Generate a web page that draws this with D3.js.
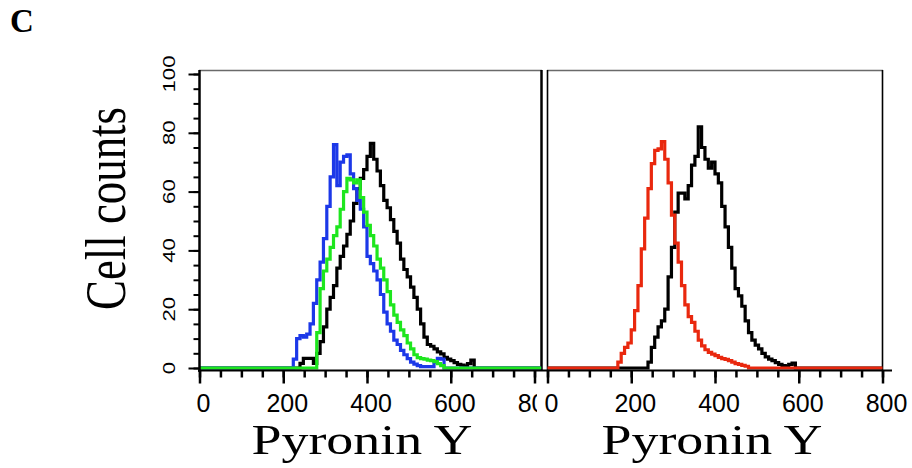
<!DOCTYPE html>
<html>
<head>
<meta charset="utf-8">
<script src="https://cdn.jsdelivr.net/npm/d3@7/dist/d3.min.js"></script>
<style>
  html, body { margin: 0; padding: 0; background: #fff; }
  svg { display: block; }
</style>
</head>
<body>
<svg id="chart" width="912" height="468"></svg>
<script>
// ---------------- DATA ----------------
const binWidth = 8;            // histogram bin width (Pyronin Y units)
const xTickMajor = [0, 200, 400, 600, 800];
const xTickMinor = d3.range(0, 801, 50);
const yTickMajor = [0, 20, 40, 60, 80, 100];
const yTickMinor = d3.range(0, 101, 5);
const xLabel = "Pyronin Y";
const yLabel = "Cell counts";
const panelLetter = "C";

// left panel: black (control), blue, green
const leftBlackStart = 240;
const leftBlack = [1.6,3.3,3.3,3.3,1.6,5,9,14,20,24,28,34,38,41.5,45.5,50,56,61,64.5,67.5,72,76.4,71,67,62,57,54.5,50.5,46.5,42.5,37,33.5,31,27.5,24,20,15,10.5,8,7.4,6.5,5.5,4.8,3.6,3,2.5,1.8,1.2,1,0.5,1.5,2.7];
const leftBlueStart = 224;
const leftBlue = [3,10,11,10.5,11.5,15,22,30,36,44,55,65,76,62,70,72,72.5,66,61,57,54,48,38,35.5,33,30,25,19,15,12.5,9.5,8,6,4.5,3.2,2,1.3,0.8,0.5,0.5,0.5,0.5,2,3.3,3];
const leftGreenStart = 280;
const leftGreen = [12,27,33,37,41,45,48,54,60,64.5,64,63,64,58,53,48.5,45,41.5,37,34,30,26,21.5,18,15.5,13,11,8.5,6.5,4.5,3.5,3.2,3,2.7,2.5,2.2,1.5,0.8];

// right panel: black (control), red
const rightBlackStart = 240;
const rightBlack = [2,7,10.5,14,16,20,31,41,53,59.5,59.5,57.5,62,69,72,82,75,71,68,70,66,63,55,48,41,34,27,24.5,21,16,12,9.5,7.8,6.5,5,3.8,3,2.5,1.8,1.2,0.8,0.5,1.2,1.7];
const rightRedStart = 168;
const rightRed = [2,5,7,8.5,13,19.5,28,40.5,51,61,69.5,74,74.5,77,71,63,52,42.5,36,28,21.5,17.5,15.5,12.5,9.5,7.5,6.2,5.3,4.7,4.2,3.6,3.2,2.9,2.5,2,1.5,1.2,0.9,0.6];

// ---------------- CHART ----------------
const svg = d3.select("#chart");
const colors = { black: "#000000", blue: "#1c38e8", green: "#1ee61e", red: "#e9280e" };

const xL = d3.scaleLinear().domain([0, 800]).range([199.5, 534.5]);
const xR = d3.scaleLinear().domain([0, 800]).range([547.5, 882.5]);
const y = d3.scaleLinear().domain([0, 100]).range([368, 74]);

const axisY = 370.5;
const boxTop = 70.5;

function histPoints(start, vals, uMax) {
  const pts = [[0, 0]];
  vals.forEach((v, i) => pts.push([start + i * binWidth, v]));
  pts.push([start + vals.length * binWidth, 0]);
  pts.push([uMax, 0]);
  return pts;
}

function drawHist(xs, start, vals, uMax, color) {
  const line = d3.line().x(d => xs(d[0])).y(d => y(d[1])).curve(d3.curveStepAfter);
  svg.append("path")
    .attr("d", line(histPoints(start, vals, uMax)))
    .attr("fill", "none")
    .attr("stroke", color)
    .attr("stroke-width", 3.2)
    .attr("stroke-linejoin", "miter");
}

// Panel letter
svg.append("text").attr("x", 10).attr("y", 32)
  .attr("font-family", "'Liberation Serif', 'Times New Roman', serif")
  .attr("font-weight", "bold").attr("font-size", 33).text(panelLetter);

// Left panel frame
svg.append("line").attr("x1", 199).attr("x2", 542).attr("y1", boxTop).attr("y2", boxTop)
  .attr("stroke", "#6a6a6a").attr("stroke-width", 1.5);
svg.append("line").attr("x1", 541.5).attr("x2", 541.5).attr("y1", 70).attr("y2", 371)
  .attr("stroke", "#000").attr("stroke-width", 2.5);
// Right panel frame
svg.append("line").attr("x1", 547).attr("x2", 883).attr("y1", boxTop).attr("y2", boxTop)
  .attr("stroke", "#6a6a6a").attr("stroke-width", 1.5);
svg.append("line").attr("x1", 547.5).attr("x2", 547.5).attr("y1", 70).attr("y2", 371)
  .attr("stroke", "#000").attr("stroke-width", 1.6);
svg.append("line").attr("x1", 882.5).attr("x2", 882.5).attr("y1", 70).attr("y2", 371)
  .attr("stroke", "#000").attr("stroke-width", 1.6);

// Histograms
drawHist(xL, leftBlackStart, leftBlack, 816, colors.black);
drawHist(xL, leftBlueStart, leftBlue, 816, colors.blue);
drawHist(xL, leftGreenStart, leftGreen, 816, colors.green);
drawHist(xR, rightBlackStart, rightBlack, 800, colors.black);
drawHist(xR, rightRedStart, rightRed, 800, colors.red);

// X axes lines
svg.append("line").attr("x1", 198).attr("x2", 547).attr("y1", axisY).attr("y2", axisY)
  .attr("stroke", "#000").attr("stroke-width", 2);
svg.append("line").attr("x1", 547).attr("x2", 892).attr("y1", axisY).attr("y2", axisY)
  .attr("stroke", "#000").attr("stroke-width", 2);

// Clip for left panel tick labels (last label is cut by right panel)
svg.append("defs").append("clipPath").attr("id", "clipLeftLabels")
  .append("rect").attr("x", 0).attr("y", 0).attr("width", 537).attr("height", 468);

function xAxis(xs, clip) {
  const gMinor = svg.append("g").attr("transform", `translate(0,${axisY})`)
    .call(d3.axisBottom(xs).tickValues(xTickMinor).tickSize(7).tickFormat("").tickSizeOuter(0));
  gMinor.select(".domain").remove();
  gMinor.selectAll(".tick line").attr("stroke-width", 2.5);
  const gMajor = svg.append("g").attr("transform", `translate(0,${axisY})`)
    .call(d3.axisBottom(xs).tickValues(xTickMajor).tickSize(13).tickFormat(d3.format("d")).tickSizeOuter(0));
  gMajor.select(".domain").remove();
  gMajor.selectAll(".tick line").attr("stroke-width", 2.5);
  gMajor.selectAll(".tick text")
    .attr("y", 41.2).attr("dy", 0).attr("x", 3.5)
    .attr("font-family", "'Liberation Sans', Arial, sans-serif")
    .attr("font-size", 25).attr("fill", "#000");
  if (clip) gMajor.attr("clip-path", "url(#clipLeftLabels)");
}
xAxis(xL, true);
xAxis(xR, false);

// Y axis (left panel)
svg.append("line").attr("x1", 199.5).attr("x2", 199.5).attr("y1", 70).attr("y2", 372)
  .attr("stroke", "#000").attr("stroke-width", 2.5);
const yMinor = svg.append("g").attr("transform", "translate(199.5,0)")
  .call(d3.axisLeft(y).tickValues(yTickMinor).tickSize(6).tickFormat("").tickSizeOuter(0));
yMinor.select(".domain").remove();
yMinor.selectAll(".tick line").attr("stroke-width", 2);
const yMajor = svg.append("g").attr("transform", "translate(199.5,0)")
  .call(d3.axisLeft(y).tickValues(yTickMajor).tickSize(11).tickFormat("").tickSizeOuter(0));
yMajor.select(".domain").remove();
yMajor.selectAll(".tick line").attr("stroke-width", 2);

svg.append("g").selectAll("text").data(yTickMajor).join("text")
  .attr("transform", d => `translate(175,${y(d)}) rotate(-90) scale(1.3,1)`)
  .attr("text-anchor", "middle")
  .attr("font-family", "'Liberation Sans', Arial, sans-serif")
  .attr("font-size", 17).attr("fill", "#000")
  .text(d => d);

// Axis titles
svg.append("text")
  .attr("transform", "translate(125,208.5) rotate(-90)")
  .attr("text-anchor", "middle")
  .attr("font-family", "'Liberation Serif', 'Times New Roman', serif")
  .attr("font-size", 58)
  .attr("textLength", 203).attr("lengthAdjust", "spacingAndGlyphs")
  .text(yLabel);

[251.5, 601.5].forEach(x0 => {
  svg.append("text")
    .attr("x", x0).attr("y", 454)
    .attr("font-family", "'Liberation Serif', 'Times New Roman', serif")
    .attr("font-size", 43)
    .attr("textLength", 221).attr("lengthAdjust", "spacingAndGlyphs")
    .text(xLabel);
});
</script>
</body>
</html>
